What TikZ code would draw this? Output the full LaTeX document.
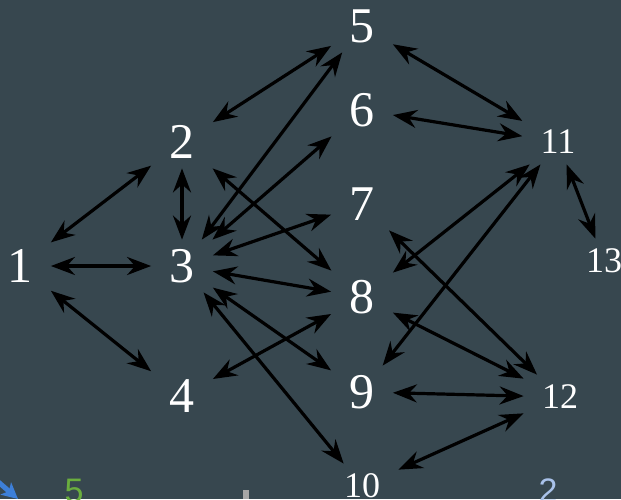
\documentclass[tikz,border=0pt]{standalone}
\usepackage{fontspec}
\setmainfont{Liberation Serif}
\setsansfont{Liberation Sans}
\usetikzlibrary{arrows.meta}
\definecolor{slate}{HTML}{37474F}
\definecolor{leafgreen}{HTML}{6AAE3E}
\definecolor{paleblue}{HTML}{A9C2EA}
\definecolor{pointblue}{HTML}{3D7FD8}
\tikzset{
	link/.style={{Stealth[length=12pt,width=9pt,inset=4pt]}-{Stealth[length=12pt,width=9pt,inset=4pt]},line width=1.6pt,black},
	v/.style={text=white,inner xsep=9pt,inner ysep=0pt,minimum height=26pt,font=\fontsize{25}{25}\selectfont},
	vv/.style={v,minimum height=22pt,font=\fontsize{18}{18}\selectfont},
	stray/.style={font=\sffamily\fontsize{17}{17}\selectfont,anchor=base}
}

\begin{document}
\begin{tikzpicture}[x=0.5pt,y=-0.5pt]
	\fill[slate] (0,0) rectangle (621,499);
	\useasboundingbox (0,0) rectangle (621,499);
	\clip (0,0) rectangle (621,499);

	% left part
	\node[v] (n1) at (20,266) {1};
	\node[v] (n2) at (182,142) {2};
	\node[v] (n3) at (182,266) {3};
	\node[v] (n4) at (182,396) {4};

	% middle column
	\node[v] (n5) at (362,26) {5};
	\node[v] (n6) at (362,110) {6};
	\node[v] (n7) at (362,204) {7};
	\node[v] (n8) at (362,297) {8};
	\node[v] (n9) at (362,392) {9};
	\node[vv] (n10) at (362,486) {10};

	% right part
	\node[vv] (n11) at (558,142) {11};
	\node[vv] (n12) at (560,397) {12};
	\node[vv] (n13) at (604,261) {13};

	\draw[link] (n1) -- (n2);
	\draw[link] (n1) -- (n3);
	\draw[link] (n1) -- (n4);
	\draw[link] (n2) -- (n3);
	\draw[link] (n2) -- (n5);
	\draw[link] (n2) -- (n8);
	\draw[link] (n3) -- (n5);
	\draw[link] (n3) -- (n6);
	\draw[link] (n3) -- (n7);
	\draw[link] (n3) -- (n8);
	\draw[link] (n3) -- (n9);
	\draw[link] (n3) -- (n10);
	\draw[link] (n4) -- (n8);
	\draw[link] (n5) -- (n11);
	\draw[link] (n6) -- (n11);
	\draw[link] (n7) -- (n12);
	\draw[link] (n8) -- (n11);
	\draw[link] (n8) -- (n12);
	\draw[link] (n9) -- (n11);
	\draw[link] (n9) -- (n12);
	\draw[link] (n10) -- (n12);
	\draw[link] (n11) -- (n13);

	% bits along the lower edge
	\coordinate (pfrom) at (-4,480);
	\coordinate (pto) at (18,499);
	\draw[pointblue,line width=2.5pt,-{Stealth[length=8pt,width=8pt,inset=2pt]}] (pfrom) -- (pto);
	\draw[gray!60,line width=1.5pt] (56,508) arc[start angle=0,end angle=180,radius=8];
	\node[stray,text=leafgreen] (five) at (74,502) {5};
	\node[stray,text=paleblue] (two) at (548,502) {2};
	\fill[gray!70] (243,490) rectangle (249,499);
\end{tikzpicture}
\end{document}
